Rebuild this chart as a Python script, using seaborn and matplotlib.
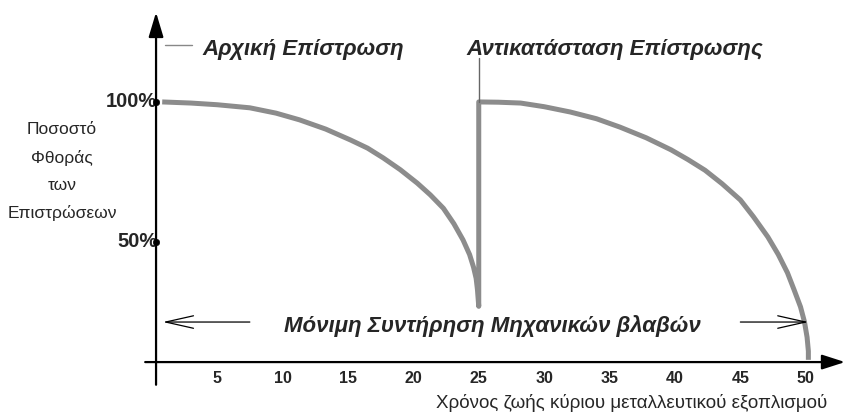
import numpy as np
import pandas as pd
import matplotlib.pyplot as plt
import seaborn as sns

# -----------------------------
# data
# -----------------------------
# wear of first coating, jump at year 25 (replacement), then second coating
years = [0.8, 3.0, 5.0, 7.5, 9.5, 11.3, 13.3, 15.2, 16.5, 17.7, 19.0, 20.3, 21.3,
         22.3, 23.1, 23.8, 24.3, 24.6, 24.8, 24.9, 25.0,
         25.0, 26.5, 28.2, 30.0, 32.0, 34.0, 35.8, 37.8, 39.7, 41.0, 42.3, 43.6,
         45.0, 46.0, 47.1, 47.9, 48.6, 49.1, 49.6, 49.9, 50.1, 50.2, 50.2]
wear = [100, 99.6, 99.0, 97.9, 96.0, 93.6, 90.3, 86.4, 83.5, 80.0, 75.8, 71.0, 66.8,
        62.0, 56.5, 50.7, 45.5, 41.0, 37.0, 33.0, 27.0,
        100, 99.9, 99.6, 98.3, 96.4, 94.0, 91.0, 87.2, 82.9, 79.4, 75.6, 70.8,
        65.0, 59.0, 51.8, 45.5, 39.0, 33.0, 26.8, 21.5, 16.0, 11.0, 7.9]

x_ticks = [5, 10, 15, 20, 25, 30, 35, 40, 45, 50]
y_ticks = [100, 50]
y_tick_labels = ["100%", "50%"]

title_left = "Αρχική Επίστρωση"
title_right = "Αντικατάσταση Επίστρωσης"
maint_label = "Μόνιμη Συντήρηση Μηχανικών βλαβών"
y_label_lines = ["Ποσοστό", "Φθοράς", "των", "Επιστρώσεων"]
x_label = "Χρόνος ζωής κύριου μεταλλευτικού εξοπλισμού"

df = pd.DataFrame({"year": years, "wear": wear})

# -----------------------------
# figure
# -----------------------------
sns.set_theme(style="white")
plt.rcParams["font.family"] = ["Liberation Sans", "DejaVu Sans"]

fig = plt.figure(figsize=(8.45, 4.15), dpi=100)
ax = fig.add_axes([0, 0, 1, 1])
ax.set_xlim(-11.6, 53.0)
ax.set_ylim(-11.8, 136.4)
ax.axis("off")

x0, y0 = 0.33, 7.1  # where the drawn axes cross

# axes with arrow heads
ax.annotate("", xy=(x0, 132), xytext=(x0, -1),
            arrowprops=dict(arrowstyle="-|>,head_length=1.5,head_width=0.45",
                            lw=1.6, color="black", mutation_scale=10,
                            shrinkA=0, shrinkB=0))
ax.annotate("", xy=(53.0, y0), xytext=(-0.5, y0),
            arrowprops=dict(arrowstyle="-|>,head_length=1.4,head_width=0.45",
                            lw=1.6, color="black", mutation_scale=10,
                            shrinkA=0, shrinkB=0))

# wear curve
sns.lineplot(data=df, x="year", y="wear", sort=False, estimator=None, ax=ax,
             color="#8c8c8c", lw=3.6, solid_capstyle="butt", solid_joinstyle="round")

# y ticks (dots on the axis)
sns.scatterplot(x=[x0] * len(y_ticks), y=y_ticks, ax=ax, color="black", s=22,
                edgecolor="black", zorder=5)
for v, lab in zip(y_ticks, y_tick_labels):
    ax.text(x0 + 0.1, v, lab, ha="right", va="center", fontsize=14.5, fontweight="bold")

for v in x_ticks:
    ax.text(v, 1.3, str(v), ha="center", va="center", fontsize=11.5, fontweight="bold")

# titles and connectors
ax.plot([1.0, 3.1], [120.4, 120.4], color="#888888", lw=1.0)
ax.text(11.57, 118.6, title_left, ha="center", va="center",
        fontsize=16, fontweight="bold", fontstyle="italic")
ax.plot([25.0, 25.0], [100, 115.7], color="#666666", lw=1.0)
ax.text(35.4, 118.6, title_right, ha="center", va="center",
        fontsize=16, fontweight="bold", fontstyle="italic")

# maintenance arrows
arrow_kw = dict(arrowstyle="->,head_length=2.0,head_width=0.45", lw=0.9,
                color="black", mutation_scale=10, shrinkA=0, shrinkB=0)
ax.annotate("", xy=(0.85, 21.4), xytext=(7.5, 21.4), arrowprops=arrow_kw)
ax.annotate("", xy=(50.2, 21.4), xytext=(45.0, 21.4), arrowprops=arrow_kw)
ax.text(26.07, 20.0, maint_label, ha="center", va="center",
        fontsize=16, fontweight="bold", fontstyle="italic")

# axis labels
for i, line in enumerate(y_label_lines):
    ax.text(-6.86, 90 - i * 9.9, line, ha="center", va="center", fontsize=12.5)
ax.text(36.7, -7.5, x_label, ha="center", va="center", fontsize=13.5)

plt.savefig("out.png", dpi=100)
